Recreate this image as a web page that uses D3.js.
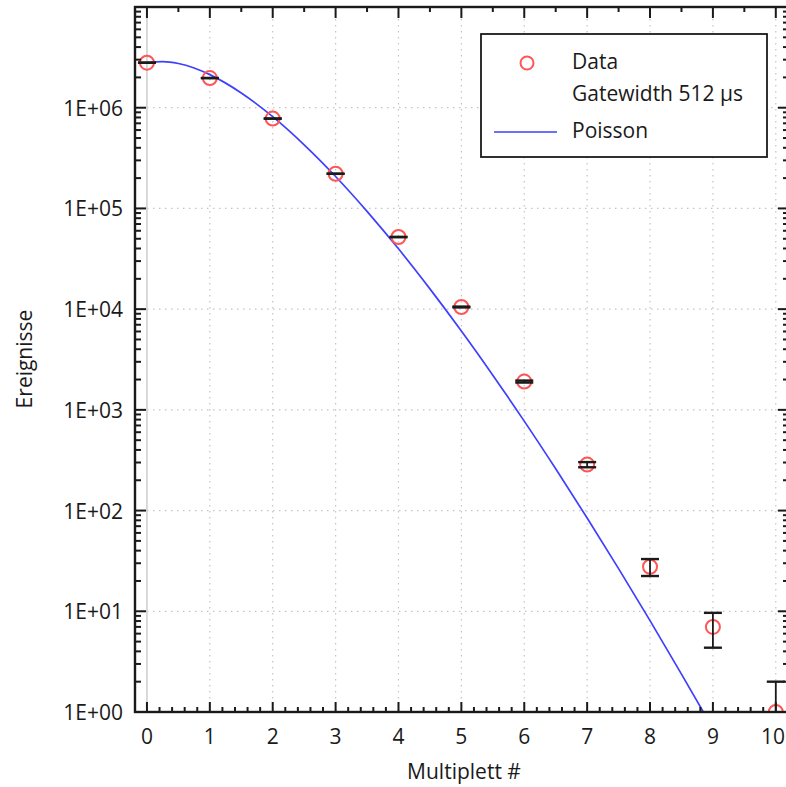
<!DOCTYPE html>
<html>
<head>
<meta charset="utf-8">
<script src="https://cdn.jsdelivr.net/npm/d3@7"></script>
<style>
  html, body { margin: 0; padding: 0; background: #fff; }
  svg { display: block; }
  text { font-family: "Open Sans", "Noto Sans", sans-serif; fill: #1a1a1a; }
</style>
</head>
<body>
<svg id="chart" width="786" height="787"></svg>
<script>
// ---------------- data ----------------
const multiplets = [0, 1, 2, 3, 4, 5, 6, 7, 8, 9, 10];
const counts = [2.8e6, 1.97e6, 7.8e5, 2.21e5, 5.2e4, 1.05e4, 1.91e3, 286, 27.7, 7.0, 1.0];
const countErrors = [1673, 1404, 883, 470, 228, 102, 44, 16.9, 5.3, 2.65, 1.0];
const poissonX = [0, 0.25, 0.5, 0.75, 1, 1.5, 2, 2.5, 3, 3.5, 4, 4.5, 5, 5.5, 6, 6.5, 7, 7.5, 8, 8.5, 9];
const poissonY = [2.786e6, 2.874e6, 2.749e6, 2.479e6, 2.13e6, 1.401e6, 8.14e5, 4.28e5, 2.075e5, 9.36e4,
                  3.97e4, 1.59e4, 6065, 2210, 773, 260, 84.4, 26.5, 8.07, 2.38, 0.685];
const xTickValues = [0, 1, 2, 3, 4, 5, 6, 7, 8, 9, 10];
const yTickValues = [1, 10, 100, 1000, 1e4, 1e5, 1e6];
const yTickLabels = ["1E+00", "1E+01", "1E+02", "1E+03", "1E+04", "1E+05", "1E+06"];
const legendLabels = ["Data", "Gatewidth 512 µs", "Poisson"];
const xTitle = "Multiplett #";
const yTitle = "Ereignisse";

// ---------------- layout ----------------
const svg = d3.select("#chart");
const W = 786;
const L = 135, R = 789, T = 7, B = 712;
const x = d3.scaleLinear().domain([-0.19, 10.21]).range([L, R]);
const y = d3.scaleLog().domain([1, 1e7]).range([B, T]);

svg.append("defs").append("clipPath").attr("id", "plotclip")
  .append("rect").attr("x", L).attr("y", T).attr("width", R - L).attr("height", B - T);

// grid
const grid = svg.append("g");
grid.selectAll("line.gx").data(xTickValues.filter(d => d !== 0)).join("line")
  .attr("x1", d => x(d)).attr("x2", d => x(d)).attr("y1", T).attr("y2", B)
  .attr("stroke", "#c4c4c4").attr("stroke-width", 1.2).attr("stroke-dasharray", "1.5,4.5");
grid.selectAll("line.gy").data(yTickValues.filter(d => d !== 1)).join("line")
  .attr("x1", L).attr("x2", R).attr("y1", d => y(d)).attr("y2", d => y(d))
  .attr("stroke", "#c4c4c4").attr("stroke-width", 1.2).attr("stroke-dasharray", "1.5,4.5");
// zero line
grid.append("line").attr("x1", x(0)).attr("x2", x(0)).attr("y1", T).attr("y2", B)
  .attr("stroke", "#d0d0d0").attr("stroke-width", 1.6);

const plot = svg.append("g").attr("clip-path", "url(#plotclip)");

// Poisson curve
const line = d3.line().x((d, i) => x(poissonX[i])).y(d => y(d)).curve(d3.curveMonotoneX);
plot.append("path").datum(poissonY).attr("d", line)
  .attr("fill", "none").attr("stroke", "#3f3fff").attr("stroke-width", 1.7);

// data circles
plot.selectAll("circle.data").data(counts).join("circle")
  .attr("cx", (d, i) => x(multiplets[i])).attr("cy", d => y(d)).attr("r", 7)
  .attr("fill", "none").attr("stroke", "#ff5555").attr("stroke-width", 2);

// error bars
const eb = plot.append("g").attr("stroke", "#1a1a1a");
const cap = 9;
counts.forEach((v, i) => {
  const cx = x(multiplets[i]);
  const lo = Math.max(v - countErrors[i], 1e-3);
  const hi = v + countErrors[i];
  const yLo = Math.min(y(lo), B + 20), yHi = y(hi);
  eb.append("line").attr("x1", cx).attr("x2", cx).attr("y1", yLo).attr("y2", yHi).attr("stroke-width", 1.8);
  eb.append("line").attr("x1", cx - cap).attr("x2", cx + cap).attr("y1", yHi).attr("y2", yHi).attr("stroke-width", 2.4);
  eb.append("line").attr("x1", cx - cap).attr("x2", cx + cap).attr("y1", yLo).attr("y2", yLo).attr("stroke-width", 2.4);
});

// ---------------- axes ----------------
const axisColor = "#1a1a1a";
const minorX = d3.range(-0.0, 10.21, 0.2).map(d => +d.toFixed(1)).filter(d => Math.abs(d - Math.round(d)) > 1e-6);
const minorXTop = d3.range(0.5, 10.21, 1);
const minorY = [];
for (let e = 0; e < 7; e++) for (let m = 2; m <= 9; m++) minorY.push(m * Math.pow(10, e));

const ax = svg.append("g").attr("stroke", axisColor);
// bottom
ax.selectAll("line.bmaj").data(xTickValues).join("line")
  .attr("x1", d => x(d)).attr("x2", d => x(d)).attr("y1", B).attr("y2", B - 10).attr("stroke-width", 2);
ax.selectAll("line.bmin").data(minorX).join("line")
  .attr("x1", d => x(d)).attr("x2", d => x(d)).attr("y1", B).attr("y2", B - 5).attr("stroke-width", 2);
// top
ax.selectAll("line.tmaj").data(xTickValues).join("line")
  .attr("x1", d => x(d)).attr("x2", d => x(d)).attr("y1", T).attr("y2", T + 11).attr("stroke-width", 2);
ax.selectAll("line.tmin").data(minorXTop).join("line")
  .attr("x1", d => x(d)).attr("x2", d => x(d)).attr("y1", T).attr("y2", T + 5).attr("stroke-width", 2);
// left
ax.selectAll("line.lmaj").data(yTickValues).join("line")
  .attr("x1", L).attr("x2", L + 11).attr("y1", d => y(d)).attr("y2", d => y(d)).attr("stroke-width", 2);
ax.selectAll("line.lmin").data(minorY).join("line")
  .attr("x1", L).attr("x2", L + 6).attr("y1", d => y(d)).attr("y2", d => y(d)).attr("stroke-width", 2);
// right
ax.selectAll("line.rmaj").data(yTickValues).join("line")
  .attr("x1", R).attr("x2", R - 11).attr("y1", d => y(d)).attr("y2", d => y(d)).attr("stroke-width", 2);
ax.selectAll("line.rmin").data(minorY).join("line")
  .attr("x1", R).attr("x2", R - 6).attr("y1", d => y(d)).attr("y2", d => y(d)).attr("stroke-width", 2);
// frame
svg.append("rect").attr("x", L).attr("y", T).attr("width", R - L).attr("height", B - T)
  .attr("fill", "none").attr("stroke", axisColor).attr("stroke-width", 2.4);

// tick labels (last label kept inside the window)
const xt = svg.selectAll("text.xt").data(xTickValues).join("text")
  .attr("x", d => x(d)).attr("y", 744).attr("text-anchor", "middle")
  .style("font-size", "21px").text(d => String(d));
xt.each(function() {
  const bb = this.getBBox();
  if (bb.x + bb.width > W - 1) d3.select(this).attr("x", +d3.select(this).attr("x") - (bb.x + bb.width - (W - 1)));
});
svg.selectAll("text.yt").data(yTickValues).join("text")
  .attr("x", 123).attr("y", d => y(d) + 8).attr("text-anchor", "end")
  .style("font-size", "21px").text((d, i) => yTickLabels[i]);

// titles
svg.append("text").attr("x", 464).attr("y", 779).attr("text-anchor", "middle")
  .style("font-size", "21px").text(xTitle);
svg.append("text").attr("transform", "translate(32,359) rotate(-90)").attr("text-anchor", "middle")
  .style("font-size", "21px").text(yTitle);

// ---------------- legend ----------------
const lg = svg.append("g");
lg.append("rect").attr("x", 481).attr("y", 34).attr("width", 286).attr("height", 123)
  .attr("fill", "#fff").attr("stroke", "#1a1a1a").attr("stroke-width", 1.8);
lg.append("circle").attr("cx", 527).attr("cy", 63).attr("r", 6.5)
  .attr("fill", "none").attr("stroke", "#ff5555").attr("stroke-width", 2);
lg.append("line").attr("x1", 494).attr("x2", 557).attr("y1", 132).attr("y2", 132)
  .attr("stroke", "#3f3fff").attr("stroke-width", 1.7);
lg.selectAll("text").data(legendLabels).join("text")
  .attr("x", 572).attr("y", (d, i) => [69, 101, 138][i])
  .style("font-size", "21px").text(d => d);
</script>
</body>
</html>
